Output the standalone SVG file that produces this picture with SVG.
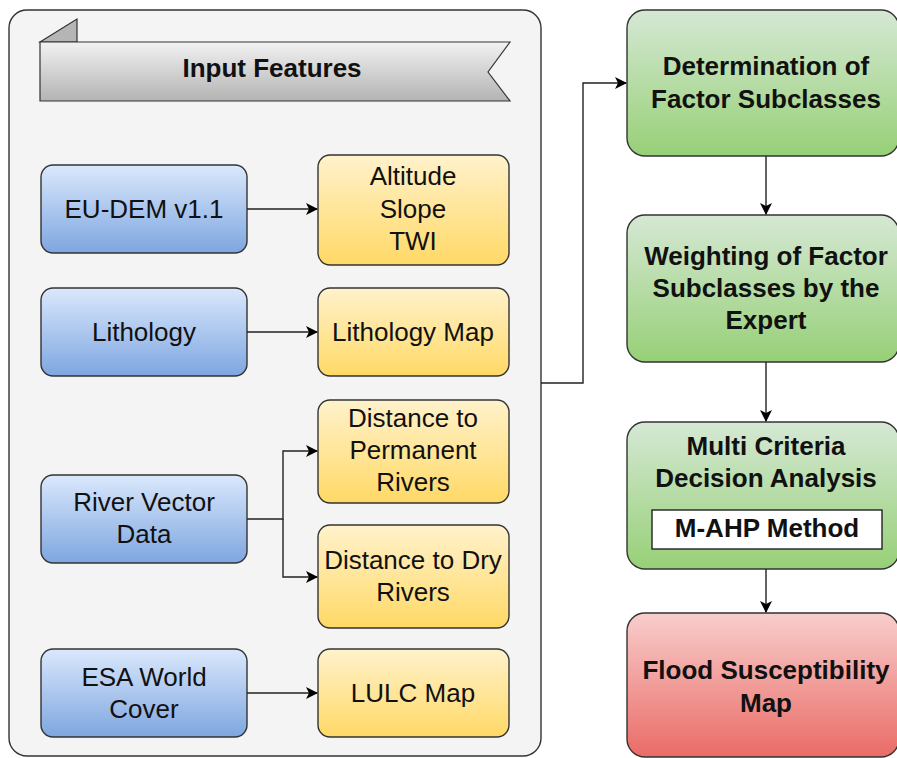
<svg xmlns="http://www.w3.org/2000/svg" width="897" height="758" viewBox="0 0 897 758">
<defs>
<linearGradient id="gBlue" x1="0" y1="0" x2="0" y2="1"><stop offset="0" stop-color="#dae8fc"/><stop offset="1" stop-color="#7ea6e0"/></linearGradient>
<linearGradient id="gYel" x1="0" y1="0" x2="0" y2="1"><stop offset="0" stop-color="#fff2cc"/><stop offset="1" stop-color="#ffd966"/></linearGradient>
<linearGradient id="gGreen" x1="0" y1="0" x2="0" y2="1"><stop offset="0" stop-color="#d5e8d4"/><stop offset="1" stop-color="#97d077"/></linearGradient>
<linearGradient id="gRed" x1="0" y1="0" x2="0" y2="1"><stop offset="0" stop-color="#f8cecc"/><stop offset="1" stop-color="#ea6b66"/></linearGradient>
<linearGradient id="gGrey" x1="0" y1="0" x2="0" y2="1"><stop offset="0" stop-color="#f2f2f2"/><stop offset="1" stop-color="#b3b3b3"/></linearGradient>
<marker id="arr" viewBox="0 0 12 12" refX="11" refY="6" markerWidth="12" markerHeight="12" markerUnits="userSpaceOnUse" orient="auto">
<path d="M0,0 L12,6 L0,12 L3,6 Z" fill="#000"/>
</marker>
</defs>
<style>
.box{stroke:#333;stroke-width:1.4}
.t{font-family:"Liberation Sans",Arial,sans-serif;font-size:26px;fill:#111;text-anchor:middle}
.b{font-weight:bold}
.c{fill:none;stroke:#222;stroke-width:1.4}
</style>
<g id="container">
<rect x="9" y="10" width="532" height="746" rx="18" fill="#f5f4f5" stroke="#333" stroke-width="1.4"/>
</g>
<g id="banner">
<polygon points="40,42 77,19 77,42" fill="#b5b5b5" stroke="#333" stroke-width="1.2"/>
<polygon points="40,42 510,42 488,72 510,101 40,101" fill="url(#gGrey)" stroke="#333" stroke-width="1.2"/>
<text class="t b" x="272" y="77">Input Features</text>
</g>
<g id="eudem"><rect class="box" x="41" y="165" width="206" height="88" rx="12" fill="url(#gBlue)"/><text class="t" x="144" y="218">EU-DEM v1.1</text></g>
<g id="lith"><rect class="box" x="41" y="288" width="206" height="88" rx="12" fill="url(#gBlue)"/><text class="t" x="144" y="341">Lithology</text></g>
<g id="river"><rect class="box" x="41" y="475" width="206" height="88" rx="12" fill="url(#gBlue)"/><text class="t" x="144" y="511">River Vector</text><text class="t" x="144" y="543">Data</text></g>
<g id="esa"><rect class="box" x="41" y="649" width="206" height="88" rx="12" fill="url(#gBlue)"/><text class="t" x="144" y="686">ESA World</text><text class="t" x="144" y="718">Cover</text></g>
<g id="alt"><rect class="box" x="318" y="155" width="191" height="110" rx="12" fill="url(#gYel)"/><text class="t" x="413" y="185">Altitude</text><text class="t" x="413" y="218">Slope</text><text class="t" x="413" y="250">TWI</text></g>
<g id="lithmap"><rect class="box" x="318" y="288" width="191" height="88" rx="12" fill="url(#gYel)"/><text class="t" x="413" y="341">Lithology Map</text></g>
<g id="distperm"><rect class="box" x="318" y="400" width="191" height="103" rx="12" fill="url(#gYel)"/><text class="t" x="413" y="427">Distance to</text><text class="t" x="413" y="459">Permanent</text><text class="t" x="413" y="491">Rivers</text></g>
<g id="distdry"><rect class="box" x="318" y="525" width="191" height="103" rx="12" fill="url(#gYel)"/><text class="t" x="413" y="569">Distance to Dry</text><text class="t" x="413" y="601">Rivers</text></g>
<g id="lulc"><rect class="box" x="318" y="649" width="191" height="88" rx="12" fill="url(#gYel)"/><text class="t" x="413" y="702">LULC Map</text></g>
<g id="determ"><rect class="box" x="627" y="10" width="272" height="146" rx="18" fill="url(#gGreen)"/><text class="t b" x="766" y="75">Determination of</text><text class="t b" x="766" y="108">Factor Subclasses</text></g>
<g id="weight"><rect class="box" x="627" y="215" width="272" height="147" rx="18" fill="url(#gGreen)"/><text class="t b" x="766" y="265">Weighting of Factor</text><text class="t b" x="766" y="297">Subclasses by the</text><text class="t b" x="766" y="329">Expert</text></g>
<g id="mcda"><rect class="box" x="627" y="422" width="272" height="147" rx="18" fill="url(#gGreen)"/><text class="t b" x="766" y="455">Multi Criteria</text><text class="t b" x="766" y="487">Decision Analysis</text>
<rect x="652" y="510" width="230" height="39" fill="#fff" stroke="#222" stroke-width="1.4"/><text class="t b" x="767" y="537">M-AHP Method</text></g>
<g id="flood"><rect class="box" x="627" y="613" width="272" height="144" rx="18" fill="url(#gRed)"/><text class="t b" x="766" y="679">Flood Susceptibility</text><text class="t b" x="766" y="712">Map</text></g>
<g id="connectors">
<path class="c" d="M247,209 H317" marker-end="url(#arr)"/>
<path class="c" d="M247,332 H317" marker-end="url(#arr)"/>
<path class="c" d="M247,519 H283 V451 H317" marker-end="url(#arr)"/>
<path class="c" d="M283,519 V577 H317" marker-end="url(#arr)"/>
<path class="c" d="M247,693 H317" marker-end="url(#arr)"/>
<path class="c" d="M541,383 H583 V83 H626" marker-end="url(#arr)"/>
<path class="c" d="M766,156 V214" marker-end="url(#arr)"/>
<path class="c" d="M766,362 V421" marker-end="url(#arr)"/>
<path class="c" d="M766,569 V612" marker-end="url(#arr)"/>
</g>
</svg>
